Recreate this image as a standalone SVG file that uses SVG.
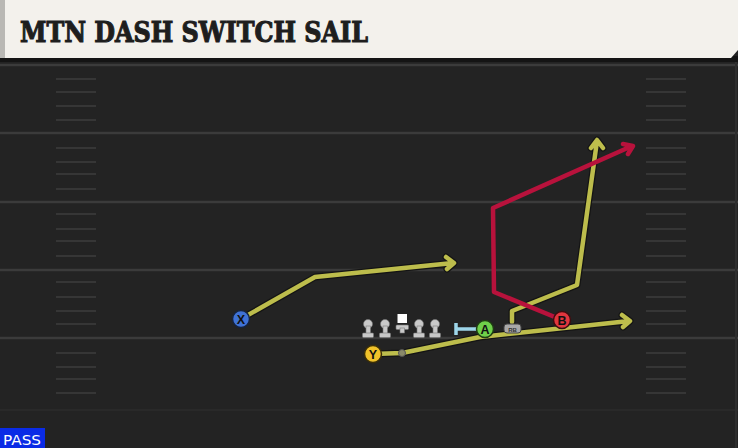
<svg xmlns="http://www.w3.org/2000/svg" width="738" height="448" viewBox="0 0 738 448">
<defs>
<style>
.yard{stroke:#3b3b3b;stroke-width:2.5}
.hash{stroke:#363636;stroke-width:2}
.out{fill:none;stroke:#141414;stroke-width:7;stroke-linejoin:round;stroke-linecap:round}
.yel{fill:none;stroke:#bdbd4c;stroke-width:4.5;stroke-linejoin:round;stroke-linecap:round}
.red{fill:none;stroke:#b8123c;stroke-width:4.5;stroke-linejoin:round;stroke-linecap:round}
.lbl{font-family:"Liberation Sans",Arial,sans-serif;font-weight:bold;font-size:12.5px;text-anchor:middle;fill:#111}
.lm{fill:#c9c9c9;stroke:#777;stroke-width:0.6}
</style>
<g id="hashes">
<line class="hash" x1="56" x2="96" y1="0" y2="0"/>
<line class="hash" x1="646" x2="686" y1="0" y2="0"/>
</g>
</defs>
<rect width="738" height="448" fill="#232323"/>
<rect x="0" y="56" width="738" height="6" fill="#141414"/>
<!-- header -->
<g id="header">
<path d="M0 0 H738 V50 L731 58 H0 Z" fill="#f3f1ec"/>
<rect x="0" y="0" width="5" height="58" fill="#b9b8b4"/>
<text x="20" y="42" font-family="'DejaVu Serif',serif" font-weight="bold" font-size="27" textLength="348" lengthAdjust="spacingAndGlyphs" fill="#1e1e1e" stroke="#1e1e1e" stroke-width="1.1">MTN DASH SWITCH SAIL</text>
</g>
<!-- field -->
<g id="field">
<line class="yard" x1="0" x2="738" y1="65" y2="65"/>
<line class="yard" x1="0" x2="738" y1="133" y2="133"/>
<line class="yard" x1="0" x2="738" y1="202" y2="202"/>
<line class="yard" x1="0" x2="738" y1="270" y2="270"/>
<line class="yard" x1="0" x2="738" y1="338" y2="338"/>
<line x1="0" x2="738" y1="410" y2="410" stroke="#2c2c2c" stroke-width="1.5"/>
<line x1="736" x2="736" y1="62" y2="448" stroke="#2e2e2e" stroke-width="2"/>
<use href="#hashes" y="79"/><use href="#hashes" y="92"/><use href="#hashes" y="106"/><use href="#hashes" y="120"/>
<use href="#hashes" y="148"/><use href="#hashes" y="162"/><use href="#hashes" y="174"/><use href="#hashes" y="189"/>
<use href="#hashes" y="214"/><use href="#hashes" y="229"/><use href="#hashes" y="241"/><use href="#hashes" y="256"/>
<use href="#hashes" y="282"/><use href="#hashes" y="297"/><use href="#hashes" y="311"/><use href="#hashes" y="324"/>
<use href="#hashes" y="353"/><use href="#hashes" y="367"/><use href="#hashes" y="379"/><use href="#hashes" y="393"/>
</g>
<!-- connectors -->
<g id="connectors">
<path class="out" d="M241 319 L315 277 L453 263 M446 257 L454 263 L447 269"/>
<path class="yel" d="M241 319 L315 277 L453 263 M446 257 L454 263 L447 269"/>
<path class="out" d="M512 322 L512 311 L577 285 L597 141 M591 148 L597 140 L603 148"/>
<path class="yel" d="M512 322 L512 311 L577 285 L597 141 M591 148 L597 140 L603 148"/>
<path class="out" d="M373 354 L402 353 L480 337 L629 321 M622 315 L630 321 L623 327"/>
<path class="yel" d="M373 354 L402 353 L480 337 L629 321 M622 315 L630 321 L623 327"/>
<circle cx="402" cy="353" r="3.5" fill="#8a8a6a" stroke="#555" stroke-width="1"/>
<path class="red" d="M562 320 L494 292 L493 208 L632 146 M623 144 L633 146 L628 154"/>
<path d="M485 329 H456 M456 323 V335" fill="none" stroke="#9ed6ea" stroke-width="3.5"/>
</g>
<!-- linemen -->
<g id="linemen">
<g id="lt"><circle class="lm" cx="368" cy="324" r="4.5"/><rect class="lm" x="366" y="326" width="4.5" height="8"/><rect class="lm" x="362.5" y="333" width="11" height="4.5" rx="1"/></g>
<g id="lg"><circle class="lm" cx="385" cy="324" r="4.5"/><rect class="lm" x="383" y="326" width="4.5" height="8"/><rect class="lm" x="379.5" y="333" width="11" height="4.5" rx="1"/></g>
<g id="c"><rect x="397.5" y="314" width="9.5" height="9" fill="#fff"/><rect class="lm" x="396" y="325" width="12.5" height="4.5" rx="1"/><rect class="lm" x="400" y="328" width="4.5" height="5"/></g>
<g id="rg"><circle class="lm" cx="419" cy="324" r="4.5"/><rect class="lm" x="417" y="326" width="4.5" height="8"/><rect class="lm" x="413.5" y="333" width="11" height="4.5" rx="1"/></g>
<g id="rt"><circle class="lm" cx="435" cy="324" r="4.5"/><rect class="lm" x="433" y="326" width="4.5" height="8"/><rect class="lm" x="429.5" y="333" width="11" height="4.5" rx="1"/></g>
</g>
<!-- players -->
<g id="X"><circle cx="241" cy="319" r="8.5" fill="#3f72d6" stroke="#15233f" stroke-width="1.5"/><text class="lbl" x="241" y="323.5">X</text></g>
<g id="Y"><circle cx="373" cy="354" r="8.5" fill="#f0c22a" stroke="#3a2e08" stroke-width="1.5"/><text class="lbl" x="373" y="358.5">Y</text></g>
<g id="A"><circle cx="485" cy="329" r="8.5" fill="#6fd04a" stroke="#1e3d12" stroke-width="1.5"/><text class="lbl" x="485" y="333.5">A</text></g>
<g id="B"><circle cx="562" cy="320" r="8.5" fill="#e2363e" stroke="#3d0d10" stroke-width="1.5"/><text class="lbl" x="562" y="324.5">B</text></g>
<g id="RB"><rect x="504" y="324" width="17" height="9" rx="3" fill="#a9a9a9" stroke="#444" stroke-width="1"/><text x="512.5" y="331.5" font-family="'Liberation Sans',Arial,sans-serif" font-size="6" font-weight="bold" text-anchor="middle" fill="#333">RB</text></g>
<!-- PASS -->
<g id="pass"><rect x="0" y="428" width="45" height="20" fill="#0a2be6"/><text x="3" y="445" font-family="'DejaVu Sans',sans-serif" font-size="14" textLength="38" lengthAdjust="spacingAndGlyphs" fill="#fff">PASS</text></g>
</svg>
